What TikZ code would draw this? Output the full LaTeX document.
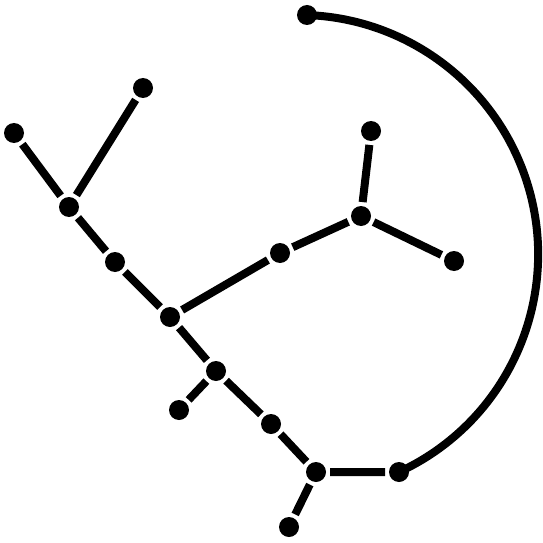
\documentclass[tikz,border=0pt]{standalone}
\usepackage{tikz}

\begin{document}
\begin{tikzpicture}[x=1pt, y=1pt, line width=8pt,
    vtx/.style={circle, fill, inner sep=0pt, minimum size=20pt}]
    \useasboundingbox (0,0) rectangle (543,542);
    \node[vtx] (a) at (307,527) {};
    \node[vtx] (b) at (143,454) {};
    \node[vtx] (c) at (14,409) {};
    \node[vtx] (d) at (69,335) {};
    \node[vtx] (e) at (371,411) {};
    \node[vtx] (f) at (361,326) {};
    \node[vtx] (g) at (454,281) {};
    \node[vtx] (h) at (280,289) {};
    \node[vtx] (i) at (115,280) {};
    \node[vtx] (j) at (170,225) {};
    \node[vtx] (k) at (216,171) {};
    \node[vtx] (l) at (179,132) {};
    \node[vtx] (m) at (271,118) {};
    \node[vtx] (n) at (316,70) {};
    \node[vtx] (o) at (399,70) {};
    \node[vtx] (p) at (289,15) {};
    \draw (c) -- (d) -- (i) -- (j) -- (k) -- (m) -- (n) -- (o);
    \draw (b) -- (d);
    \draw (j) -- (h) -- (f) -- (e);
    \draw (f) -- (g);
    \draw (k) -- (l);
    \draw (n) -- (p);
    \draw (o.center) arc[start angle=-65.2, end angle=87.9, radius=239.6];
\end{tikzpicture}
\end{document}
